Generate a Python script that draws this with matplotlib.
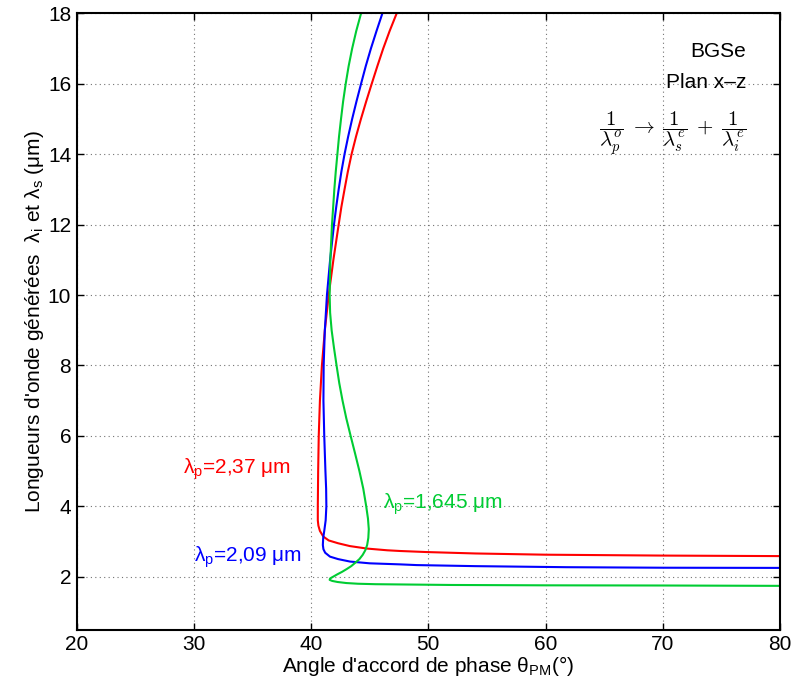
import numpy as np
import matplotlib
matplotlib.use('Agg')
import matplotlib.pyplot as plt

plt.rcParams['font.family'] = ['Liberation Sans', 'DejaVu Sans']
plt.rcParams['mathtext.fontset'] = 'custom'
plt.rcParams['mathtext.rm'] = 'Liberation Sans'
plt.rcParams['mathtext.it'] = 'Liberation Sans:italic'

# phase matching curves: angle (deg) and wavelength (um)
red_theta = [47.3, 46.7, 46.15, 45.65, 45.17, 44.7, 44.25, 43.83, 43.45, 43.13,
             42.85, 42.58, 42.35, 41.9, 41.5, 41.17, 40.92, 40.75, 40.65, 40.6,
             40.57, 40.57, 40.62, 40.75, 41.04, 41.5, 42.3, 43.3, 44.74, 46.5,
             47.6, 49.86, 54.0, 60.0, 70.0, 80.0]
red_lam = [18.0, 17.5, 17.0, 16.5, 16.0, 15.5, 15.0, 14.5, 14.0, 13.5,
           13.0, 12.5, 12.0, 11.0, 10.0, 9.0, 8.0, 7.0, 6.0, 5.0,
           4.0, 3.6, 3.45, 3.3, 3.14, 3.03, 2.95, 2.87, 2.8, 2.75,
           2.73, 2.7, 2.66, 2.625, 2.6, 2.585]

blue_theta = [46.08, 45.58, 45.1, 44.66, 44.26, 43.87, 43.5, 43.16, 42.85, 42.58,
              42.35, 42.14, 41.95, 41.62, 41.35, 41.17, 41.07, 41.05, 41.12, 41.22,
              41.28, 41.3, 41.24, 41.12, 41.03, 41.0, 41.05, 41.2, 41.61, 42.3,
              43.32, 45.0, 47.6, 49.0, 54.0, 61.8, 70.0, 80.0]
blue_lam = [18.0, 17.5, 17.0, 16.5, 16.0, 15.5, 15.0, 14.5, 14.0, 13.5,
            13.0, 12.5, 12.0, 11.0, 10.0, 9.0, 8.0, 7.0, 6.0, 5.0,
            4.5, 4.0, 3.6, 3.3, 3.1, 2.9, 2.78, 2.68, 2.57, 2.5,
            2.43, 2.38, 2.35, 2.33, 2.3, 2.27, 2.255, 2.25]

green_theta = [44.26, 43.85, 43.5, 43.2, 42.95, 42.73, 42.55, 42.38, 42.24, 42.1,
               41.98, 41.78, 41.64, 41.58, 41.62, 41.75, 41.95, 42.17, 42.4, 42.68,
               43.0, 43.37, 43.75, 44.12, 44.45, 44.7, 44.85, 44.92, 44.88, 44.78,
               44.62, 44.4, 44.12, 43.78, 43.42, 43.05, 42.65, 42.25, 41.88, 41.62,
               41.58, 41.8, 42.25, 43.0, 44.0, 45.5, 47.6, 52.0, 60.0, 70.0, 80.0]
green_lam = [18.0, 17.5, 17.0, 16.5, 16.0, 15.5, 15.0, 14.5, 14.0, 13.5,
             13.0, 12.0, 11.0, 10.0, 9.5, 9.0, 8.5, 8.0, 7.5, 7.0,
             6.5, 6.0, 5.5, 5.0, 4.5, 4.0, 3.65, 3.35, 3.1, 2.9,
             2.75, 2.62, 2.5, 2.4, 2.3, 2.22, 2.14, 2.07, 2.0, 1.95,
             1.91, 1.88, 1.85, 1.82, 1.8, 1.787, 1.78, 1.765, 1.755, 1.75, 1.74]

red = (1, 0, 0)
blue = (0, 0, 1)
green = (0, 0.8, 0.2)

fig = plt.figure(figsize=(7.91, 6.85), dpi=100)
ax = fig.add_axes([0.097, 0.081, 0.889, 0.8995])

ax.plot(red_theta, red_lam, color=red, lw=1.5)
ax.plot(blue_theta, blue_lam, color=blue, lw=1.5)
ax.plot(green_theta, green_lam, color=green, lw=1.5)

ax.set_xlim(20, 80)
ax.set_ylim(0.5, 18)
ax.set_xticks(np.arange(20, 81, 10))
ax.set_yticks(np.arange(2, 19, 2))
ax.tick_params(direction='in', top=True, right=True, labelsize=15, length=5, width=1, pad=4)
ax.grid(True, linestyle=(0, (1, 3)), color='0.45', linewidth=0.8)
for s in ax.spines.values():
    s.set_linewidth(1.5)

ax.set_xlabel(r"Angle d'accord de phase θ$_{\mathrm{PM}}$(°)", fontsize=15, labelpad=0)
ax.set_ylabel(r"Longueurs d'onde générées  λ$_{\mathrm{i}}$ et λ$_{\mathrm{s}}$ (μm)",
              fontsize=15, labelpad=1)

ax.text(29.1, 5.05, r"λ$_{\mathrm{p}}$=2,37 μm", color=red, fontsize=15, va='center')
ax.text(30.0, 2.55, r"λ$_{\mathrm{p}}$=2,09 μm", color=blue, fontsize=15, va='center')
ax.text(46.1, 4.05, r"λ$_{\mathrm{p}}$=1,645 μm", color=green, fontsize=15, va='center')

ax.text(77.1, 16.76, "BGSe", fontsize=15, ha='right', va='baseline')
ax.text(77.1, 15.88, "Plan x–z", fontsize=15, ha='right', va='baseline')
ax.text(77.1, 14.6,
        r"$\dfrac{1}{\lambda_p^o}\;\rightarrow\;\dfrac{1}{\lambda_s^e}\;+\;\dfrac{1}{\lambda_i^e}$",
        fontsize=15, ha='right', va='center', math_fontfamily='cm')

fig.savefig('out.png', dpi=100)
